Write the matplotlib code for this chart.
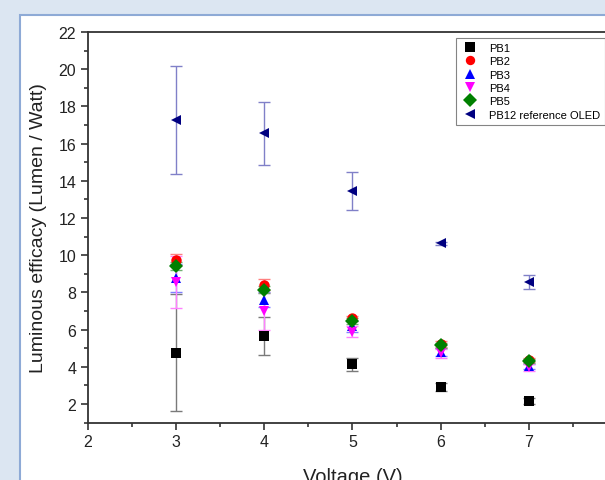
import matplotlib
matplotlib.use("Agg")
import matplotlib.pyplot as plt
from matplotlib.patches import Rectangle
from matplotlib.ticker import MultipleLocator

plt.rcParams['font.family'] = ['Liberation Sans', 'DejaVu Sans']

voltage = [3, 4, 5, 6, 7]

pb1 = [4.75, 5.66, 4.12, 2.90, 2.16]
pb1_err = [3.15, 1.03, 0.35, 0.20, 0.15]
pb2 = [9.75, 8.40, 6.60, 5.22, 4.36]
pb2_err = [0.30, 0.30, 0.15, 0.15, 0.10]
pb3 = [8.75, 7.60, 6.18, 4.80, 4.02]
pb3_err = [0.75, 0.40, 0.30, 0.20, 0.15]
pb4 = [8.55, 6.98, 5.88, 4.72, 3.96]
pb4_err = [1.40, 1.00, 0.30, 0.25, 0.20]
pb5 = [9.42, 8.15, 6.45, 5.15, 4.32]
pb5_err = [0.20, 0.20, 0.15, 0.12, 0.10]
pb12 = [17.25, 16.55, 13.45, 10.65, 8.56]
pb12_err = [2.90, 1.70, 1.00, 0.08, 0.38]

series = [
    ('PB1', pb1, pb1_err, 's', 'black', '#7a7a7a'),
    ('PB2', pb2, pb2_err, 'o', 'red', '#ff8080'),
    ('PB3', pb3, pb3_err, '^', 'blue', '#8080ff'),
    ('PB4', pb4, pb4_err, 'v', 'magenta', '#ff80ff'),
    ('PB5', pb5, pb5_err, 'D', 'green', '#70b070'),
    ('PB12 reference OLED', pb12, pb12_err, '<', 'navy', '#8080c8'),
]

fig = plt.figure(figsize=(6.05, 4.81), dpi=100, facecolor='#dce6f2')

# white panel behind the chart
fig.patches.append(Rectangle((20 / 605, -0.05), 1.0, 465 / 481 + 0.05,
                             transform=fig.transFigure, facecolor='white',
                             edgecolor='#8eaad6', linewidth=1.5, zorder=-1))

ax = fig.add_axes([88 / 605, 57.5 / 481, 529 / 605, 390.5 / 481])
ax.set_facecolor('none')

handles = []
for name, vals, errs, mk, col, ecol in series:
    ax.errorbar(voltage, vals, yerr=errs, fmt='none', ecolor=ecol,
                elinewidth=1.0, capsize=4, capthick=1.0, zorder=2)
    h, = ax.plot(voltage, vals, linestyle='none', marker=mk, color=col,
                 markersize=7.5, markeredgewidth=0, label=name, zorder=3)
    handles.append(h)

ax.set_xlim(2, 8)
ax.set_ylim(1, 22)
ax.xaxis.set_major_locator(MultipleLocator(1))
ax.xaxis.set_minor_locator(MultipleLocator(0.5))
ax.yaxis.set_major_locator(MultipleLocator(2))
ax.yaxis.set_minor_locator(MultipleLocator(1))
ax.tick_params(which='major', direction='out', length=5, width=1.2,
               color='#333333', labelsize=11.5, labelcolor='#222222')
ax.tick_params(which='minor', direction='out', length=3, width=1.2,
               color='#333333')
for side in ['left', 'bottom', 'top']:
    ax.spines[side].set_color('#333333')
    ax.spines[side].set_linewidth(1.3)
ax.spines['right'].set_visible(False)

ax.set_xlabel('Voltage (V)', fontsize=14.5, color='#222222', labelpad=13)
ax.set_ylabel('Luminous efficacy (Lumen / Watt)', fontsize=14,
              color='#222222', labelpad=8)

leg = ax.legend(handles=handles, loc='upper left',
                bbox_to_anchor=(456 / 605, 442 / 481),
                bbox_transform=fig.transFigure, borderaxespad=0,
                fontsize=8, frameon=True,
                fancybox=False, edgecolor='#666666', borderpad=0.45,
                labelspacing=0.3, handletextpad=0.9, handlelength=1.6,
                markerscale=0.9)
leg.get_frame().set_linewidth(0.8)

fig.savefig('out.png', dpi=100, facecolor=fig.get_facecolor())
